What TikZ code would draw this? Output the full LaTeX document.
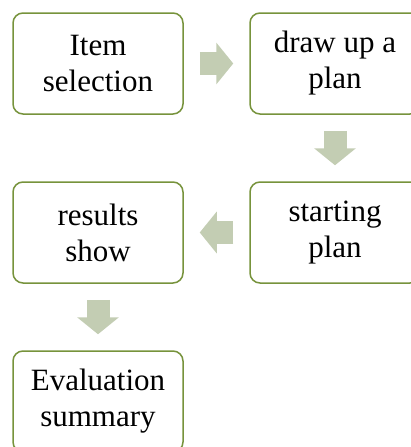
\documentclass[tikz,border=0pt]{standalone}
\usepackage{fontspec}
\setmainfont{Liberation Serif}
\newfontfamily\boxfont{Liberation Serif}
\usetikzlibrary{arrows.meta}

\definecolor{boxline}{RGB}{119,147,60}
\definecolor{arrowfill}{RGB}{195,205,179}

\tikzset{
    stepbox/.style={draw=boxline, line width=1.5pt, rounded corners=10pt, fill=white,
        minimum width=170pt, minimum height=101pt, align=center,
        font=\boxfont\fontsize{31}{36}\selectfont},
    flow/.style={draw=arrowfill, line width=23pt,
        -{Triangle[length=17pt,width=41pt]}, shorten <=16pt, shorten >=16pt}
}

\begin{document}
\begin{tikzpicture}[x=1pt, y=-1pt]
    % --- MARCO ---
    \useasboundingbox (0,0) rectangle (411,447);
    \clip (0,0) rectangle (411,447);

    % --- CAJAS ---
    \node[stepbox] (item)    at (98,63.5)   {Item\\selection};
    \node[stepbox] (plan)    at (335,63.5)  {draw up a\\plan};
    \node[stepbox] (start)   at (335,232.5) {starting\\plan};
    \node[stepbox] (results) at (98,232.5)  {results\\show};
    \node[stepbox] (summary) at (98,401.5)  {Evaluation\\summary};

    % --- FLECHAS ---
    \draw[flow] (item) -- (plan);
    \draw[flow] (plan) -- (start);
    \draw[flow] (start) -- (results);
    \draw[flow] (results) -- (summary);
\end{tikzpicture}
\end{document}
